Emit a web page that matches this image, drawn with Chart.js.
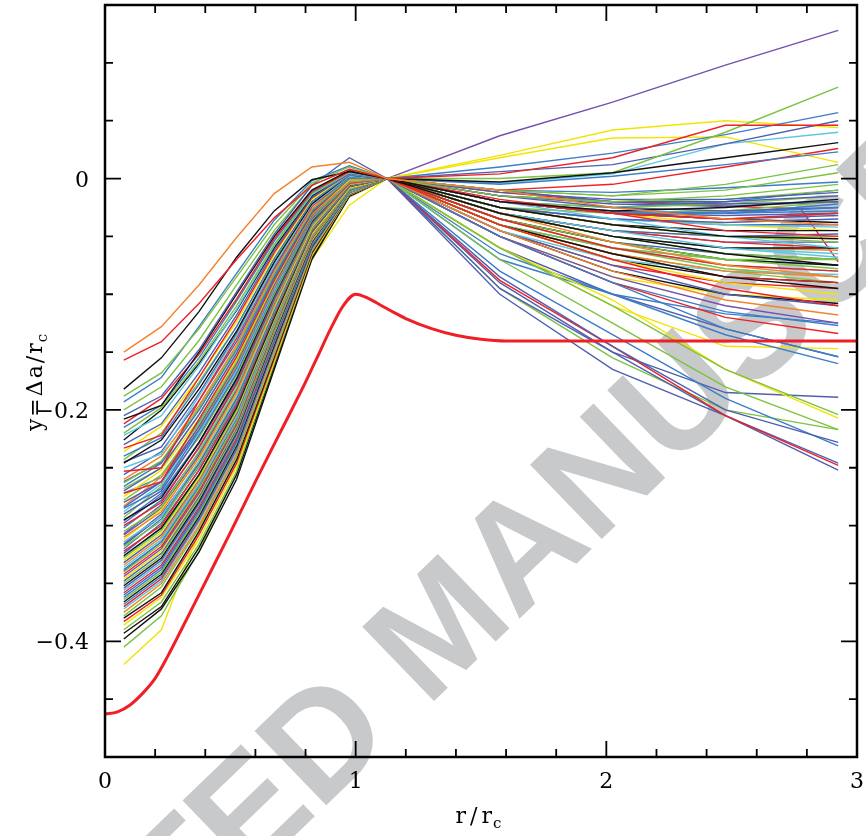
<!DOCTYPE html>
<html>
<head>
<meta charset="utf-8">
<script src="https://cdn.jsdelivr.net/npm/chart.js@4.4.1/dist/chart.umd.min.js"></script>
<style>
  html, body { margin: 0; padding: 0; background: #fff; }
  #wrap { width: 866px; height: 836px; }
</style>
</head>
<body>
<div id="wrap"><canvas id="chart__profiles" width="866" height="836"></canvas></div>
<script>
// r/r_c sample points of the thin curves
const xLeft = [0.075, 0.225, 0.375, 0.525, 0.675, 0.825, 0.975];
const xPivot = 1.125;   // every thin curve is normalised to zero here
const pivotY = 0;
const xRight = [1.575, 2.025, 2.475, 2.925];

// y values left of the pivot, one row per curve
const leftY = [
  [-0.150,-0.128,-0.092,-0.051,-0.013,0.010,0.014],
  [-0.157,-0.141,-0.108,-0.070,-0.034,-0.006,0.008],
  [-0.182,-0.155,-0.115,-0.068,-0.028,-0.001,0.006],
  [-0.188,-0.168,-0.130,-0.085,-0.040,-0.004,0.010],
  [-0.193,-0.172,-0.128,-0.082,-0.036,-0.002,0.011],
  [-0.205,-0.188,-0.148,-0.098,-0.048,-0.006,0.018],
  [-0.200,-0.180,-0.140,-0.092,-0.045,-0.006,0.008],
  [-0.208,-0.196,-0.150,-0.100,-0.050,-0.010,0.007],
  [-0.212,-0.190,-0.152,-0.104,-0.052,-0.011,0.006],
  [-0.215,-0.196,-0.155,-0.106,-0.054,-0.012,0.007],
  [-0.220,-0.198,-0.158,-0.110,-0.057,-0.013,0.006],
  [-0.222,-0.205,-0.162,-0.113,-0.058,-0.014,0.005],
  [-0.226,-0.200,-0.160,-0.114,-0.060,-0.015,0.006],
  [-0.230,-0.212,-0.168,-0.118,-0.062,-0.016,0.004],
  [-0.233,-0.222,-0.172,-0.121,-0.064,-0.017,0.005],
  [-0.236,-0.214,-0.172,-0.124,-0.066,-0.018,0.004],
  [-0.240,-0.224,-0.178,-0.128,-0.069,-0.020,0.003],
  [-0.243,-0.220,-0.176,-0.128,-0.070,-0.020,0.004],
  [-0.246,-0.226,-0.182,-0.132,-0.072,-0.022,0.003],
  [-0.250,-0.238,-0.188,-0.136,-0.075,-0.023,0.002],
  [-0.253,-0.250,-0.192,-0.138,-0.076,-0.024,0.003],
  [-0.256,-0.236,-0.192,-0.141,-0.078,-0.024,0.001],
  [-0.260,-0.240,-0.196,-0.144,-0.080,-0.026,0.002],
  [-0.263,-0.244,-0.198,-0.146,-0.082,-0.027,0.001],
  [-0.266,-0.246,-0.200,-0.148,-0.084,-0.028,0.000],
  [-0.270,-0.250,-0.204,-0.151,-0.086,-0.029,0.001],
  [-0.272,-0.262,-0.208,-0.154,-0.088,-0.030,0.000],
  [-0.275,-0.252,-0.208,-0.156,-0.089,-0.030,-0.001],
  [-0.278,-0.256,-0.212,-0.158,-0.090,-0.031,-0.001],
  [-0.280,-0.262,-0.214,-0.160,-0.092,-0.032,0.000],
  [-0.283,-0.258,-0.215,-0.162,-0.094,-0.033,-0.002],
  [-0.285,-0.268,-0.218,-0.164,-0.095,-0.034,-0.001],
  [-0.288,-0.264,-0.220,-0.166,-0.097,-0.034,-0.002],
  [-0.290,-0.270,-0.222,-0.168,-0.098,-0.035,-0.002],
  [-0.293,-0.266,-0.224,-0.170,-0.100,-0.036,-0.003],
  [-0.295,-0.276,-0.228,-0.173,-0.101,-0.037,-0.002],
  [-0.298,-0.274,-0.229,-0.175,-0.103,-0.038,-0.003],
  [-0.300,-0.280,-0.232,-0.177,-0.104,-0.038,-0.004],
  [-0.302,-0.278,-0.233,-0.178,-0.105,-0.039,-0.003],
  [-0.305,-0.284,-0.236,-0.181,-0.107,-0.040,-0.004],
  [-0.307,-0.282,-0.237,-0.182,-0.108,-0.040,-0.004],
  [-0.310,-0.288,-0.241,-0.185,-0.110,-0.041,-0.005],
  [-0.312,-0.286,-0.242,-0.186,-0.111,-0.042,-0.005],
  [-0.314,-0.292,-0.244,-0.188,-0.112,-0.042,-0.005],
  [-0.316,-0.290,-0.246,-0.190,-0.114,-0.043,-0.006],
  [-0.318,-0.296,-0.248,-0.191,-0.115,-0.044,-0.006],
  [-0.320,-0.294,-0.249,-0.193,-0.116,-0.044,-0.006],
  [-0.322,-0.300,-0.252,-0.195,-0.117,-0.045,-0.006],
  [-0.324,-0.298,-0.252,-0.196,-0.118,-0.046,-0.007],
  [-0.326,-0.302,-0.256,-0.198,-0.120,-0.046,-0.007],
  [-0.328,-0.304,-0.257,-0.200,-0.121,-0.047,-0.007],
  [-0.330,-0.306,-0.259,-0.201,-0.122,-0.048,-0.008],
  [-0.332,-0.308,-0.260,-0.203,-0.123,-0.048,-0.007],
  [-0.334,-0.310,-0.262,-0.204,-0.124,-0.049,-0.008],
  [-0.336,-0.312,-0.264,-0.206,-0.125,-0.049,-0.008],
  [-0.338,-0.314,-0.265,-0.207,-0.126,-0.050,-0.008],
  [-0.340,-0.316,-0.268,-0.210,-0.128,-0.051,-0.009],
  [-0.342,-0.318,-0.270,-0.211,-0.129,-0.052,-0.009],
  [-0.344,-0.320,-0.272,-0.213,-0.130,-0.052,-0.009],
  [-0.346,-0.322,-0.273,-0.214,-0.131,-0.053,-0.009],
  [-0.348,-0.324,-0.275,-0.216,-0.132,-0.053,-0.010],
  [-0.350,-0.326,-0.277,-0.218,-0.134,-0.054,-0.010],
  [-0.352,-0.328,-0.279,-0.219,-0.135,-0.055,-0.010],
  [-0.354,-0.330,-0.281,-0.221,-0.136,-0.055,-0.010],
  [-0.356,-0.332,-0.282,-0.222,-0.137,-0.056,-0.011],
  [-0.358,-0.334,-0.284,-0.224,-0.138,-0.056,-0.011],
  [-0.360,-0.336,-0.286,-0.226,-0.140,-0.057,-0.011],
  [-0.362,-0.338,-0.288,-0.228,-0.141,-0.058,-0.011],
  [-0.364,-0.340,-0.290,-0.229,-0.142,-0.058,-0.012],
  [-0.366,-0.342,-0.292,-0.231,-0.144,-0.059,-0.012],
  [-0.368,-0.344,-0.294,-0.233,-0.145,-0.060,-0.012],
  [-0.370,-0.346,-0.295,-0.234,-0.146,-0.060,-0.012],
  [-0.372,-0.348,-0.297,-0.236,-0.148,-0.061,-0.013],
  [-0.375,-0.350,-0.300,-0.238,-0.150,-0.062,-0.013],
  [-0.378,-0.353,-0.302,-0.240,-0.152,-0.063,-0.013],
  [-0.380,-0.358,-0.305,-0.243,-0.154,-0.064,-0.013],
  [-0.383,-0.360,-0.308,-0.246,-0.156,-0.065,-0.014],
  [-0.386,-0.362,-0.312,-0.249,-0.158,-0.066,-0.014],
  [-0.390,-0.366,-0.316,-0.253,-0.160,-0.067,-0.014],
  [-0.393,-0.370,-0.319,-0.256,-0.162,-0.068,-0.015],
  [-0.398,-0.372,-0.323,-0.260,-0.165,-0.070,-0.015],
  [-0.405,-0.378,-0.322,-0.255,-0.162,-0.069,-0.016],
  [-0.420,-0.390,-0.305,-0.225,-0.145,-0.070,-0.023],
  [-0.262,-0.245,-0.200,-0.147,-0.083,-0.027,0.001],
  [-0.284,-0.262,-0.217,-0.163,-0.095,-0.034,-0.002],
  [-0.296,-0.272,-0.228,-0.173,-0.102,-0.037,-0.003],
  [-0.308,-0.285,-0.239,-0.183,-0.109,-0.041,-0.004],
  [-0.317,-0.292,-0.247,-0.190,-0.114,-0.043,-0.005],
  [-0.327,-0.302,-0.256,-0.199,-0.120,-0.047,-0.007],
  [-0.339,-0.314,-0.267,-0.208,-0.127,-0.050,-0.008],
  [-0.272,-0.258,-0.210,-0.155,-0.088,-0.030,0.000],
  [-0.245,-0.232,-0.186,-0.134,-0.073,-0.022,0.003],
  [-0.268,-0.250,-0.204,-0.151,-0.086,-0.029,0.000]
];

// y values right of the pivot, same curve order
const rightY = [
  [-0.010,-0.025,-0.035,-0.040],
  [0.004,0.018,0.046,0.046],
  [-0.003,0.005,0.018,0.031],
  [0.000,0.005,0.040,0.079],
  [0.010,0.022,0.038,0.057],
  [0.006,0.012,0.030,0.050],
  [-0.010,-0.015,-0.010,0.005],
  [-0.020,-0.028,-0.025,-0.018],
  [-0.020,-0.030,-0.035,-0.030],
  [-0.005,0.002,0.012,0.023],
  [-0.015,-0.020,-0.015,-0.005],
  [-0.004,0.004,0.030,0.040],
  [-0.025,-0.040,-0.050,-0.052],
  [-0.010,-0.020,-0.022,-0.020],
  [-0.018,-0.030,-0.045,-0.050],
  [0.018,0.035,0.036,0.014],
  [-0.020,-0.030,-0.030,-0.025],
  [-0.010,-0.015,-0.005,0.012],
  [-0.030,-0.050,-0.065,-0.075],
  [-0.020,-0.035,-0.050,-0.060],
  [-0.040,-0.070,-0.095,-0.110],
  [-0.015,-0.020,-0.020,-0.015],
  [-0.030,-0.055,-0.075,-0.085],
  [-0.025,-0.040,-0.050,-0.055],
  [-0.010,-0.012,-0.008,-0.003],
  [-0.020,-0.030,-0.035,-0.032],
  [-0.035,-0.060,-0.075,-0.080],
  [0.020,0.042,0.050,0.044],
  [-0.030,-0.050,-0.065,-0.070],
  [-0.012,-0.018,-0.018,-0.012],
  [-0.045,-0.080,-0.105,-0.118],
  [-0.050,-0.090,-0.130,-0.154],
  [-0.030,-0.045,-0.060,-0.068],
  [-0.025,-0.035,-0.038,-0.035],
  [-0.060,-0.110,-0.165,-0.204],
  [-0.030,-0.050,-0.060,-0.060],
  [-0.015,-0.025,-0.028,-0.025],
  [-0.050,-0.090,-0.120,-0.134],
  [-0.020,-0.028,-0.030,-0.028],
  [-0.035,-0.055,-0.070,-0.078],
  [0.037,0.066,0.098,0.128],
  [-0.025,-0.040,-0.050,-0.052],
  [-0.040,-0.070,-0.090,-0.100],
  [-0.025,-0.035,-0.040,-0.042],
  [-0.085,-0.145,-0.200,-0.228],
  [-0.020,-0.025,-0.022,-0.015],
  [-0.020,-0.030,-0.030,-0.022],
  [-0.088,-0.145,-0.205,-0.248],
  [-0.030,-0.045,-0.050,-0.048],
  [-0.040,-0.065,-0.085,-0.095],
  [-0.070,-0.125,-0.180,-0.217],
  [-0.060,-0.105,-0.165,-0.207],
  [-0.095,-0.150,-0.205,-0.252],
  [-0.040,-0.065,-0.080,-0.085],
  [-0.045,-0.070,-0.080,-0.083],
  [-0.065,-0.100,-0.135,-0.160],
  [-0.040,-0.060,-0.070,-0.070],
  [-0.010,-0.005,0.010,0.026],
  [-0.050,-0.085,-0.110,-0.125],
  [-0.060,-0.110,-0.145,-0.147],
  [-0.045,-0.075,-0.100,-0.110],
  [-0.015,-0.020,-0.018,-0.010],
  [-0.035,-0.055,-0.070,-0.075],
  [-0.100,-0.165,-0.205,-0.246],
  [-0.030,-0.050,-0.060,-0.065],
  [-0.040,-0.065,-0.085,-0.090],
  [-0.035,-0.055,-0.065,-0.070],
  [-0.050,-0.090,-0.115,-0.127],
  [-0.025,-0.030,-0.028,-0.020],
  [-0.040,-0.070,-0.085,-0.090],
  [-0.080,-0.135,-0.190,-0.231],
  [-0.045,-0.075,-0.090,-0.095],
  [-0.040,-0.060,-0.075,-0.080],
  [-0.030,-0.050,-0.060,-0.062],
  [-0.095,-0.155,-0.200,-0.217],
  [-0.045,-0.080,-0.100,-0.108],
  [-0.030,-0.045,-0.055,-0.060],
  [-0.050,-0.085,-0.100,-0.105],
  [-0.030,-0.045,-0.050,-0.050],
  [-0.020,-0.030,-0.035,-0.038],
  [-0.025,-0.040,-0.045,-0.045],
  [-0.035,-0.060,-0.078,-0.085],
  [-0.020,-0.030,-0.040,-0.045],
  [-0.090,-0.150,-0.185,-0.189],
  [-0.060,-0.100,-0.130,-0.154],
  [-0.020,-0.025,-0.020,-0.010],
  [-0.025,-0.035,-0.040,-0.040],
  [-0.015,-0.022,-0.024,-0.020],
  [-0.040,-0.060,-0.070,-0.075],
  [-0.030,-0.045,-0.055,-0.055],
  [-0.070,-0.100,-0.117,-0.125],
  [-0.020,-0.030,-0.032,-0.030],
  [-0.040,-0.065,-0.080,-0.090]
];

// one colour letter per curve (same order as leftY / rightY)
const lineColorKey =
  'ORKGLBGKRL' + 'GCKBRYLGKC' + 'RBOGLBRYGB' + 'OLCBGKBRLG' + 'POYCBGLRBK' +
  'GYBOCLGRPY' + 'BGKBCRBLGK' + 'LRCOGKRYGK' + 'KGYBBLBBCB' + 'LBG';

// the one thin red curve that drops at the very end
const redTailX = [1.125, 1.575, 2.025, 2.475, 2.775, 2.925];
const redTailY = [0, -0.012, -0.020, -0.024, -0.026, -0.072];

// thick red reference curve
const modelX = [0, 0.05, 0.1, 0.15, 0.2, 0.25, 0.3, 0.4, 0.5, 0.6, 0.7, 0.8, 0.85, 0.9, 0.95, 1.0,
                1.05, 1.1, 1.15, 1.2, 1.3, 1.4, 1.5, 1.6, 2.0, 2.5, 3.0];
const modelY = [-0.463, -0.461, -0.455, -0.445, -0.432, -0.413, -0.392, -0.349, -0.306, -0.262, -0.219,
                -0.176, -0.153, -0.130, -0.110, -0.100, -0.1035, -0.1095, -0.1155, -0.121, -0.1295, -0.1355,
                -0.139, -0.1405, -0.1405, -0.1405, -0.1405];

// labelled ticks
const xTickLabels = ['0', '1', '2', '3'];
const yTickLabels = ['0', '\u22120.2', '\u22120.4'];

const palette = {
  B: '#4f5fb0', L: '#3c7dc8', C: '#5cc6df', G: '#7dc242', Y: '#f2e400',
  O: '#f5822a', R: '#ec2227', K: '#111111', P: '#7350ae'
};

const toPoints = (xs, ys) => xs.map((x, k) => ({ x: x, y: ys[k] }));

let datasets = [{
  data: toPoints(modelX, modelY),
  borderColor: '#ee1f26',
  borderWidth: 3,
  cubicInterpolationMode: 'monotone'
}];
leftY.forEach((ly, i) => {
  datasets.push({
    data: toPoints(xLeft, ly).concat([{ x: xPivot, y: pivotY }], toPoints(xRight, rightY[i])),
    borderColor: palette[lineColorKey[i]],
    borderWidth: 1.4
  });
});
datasets.push({
  data: toPoints(redTailX, redTailY),
  borderColor: palette.R,
  borderWidth: 1.4
});

const isMultiple = (v, step) => Math.abs(v / step - Math.round(v / step)) < 1e-6;

// gray diagonal watermark, behind everything
const watermark = {
  id: 'watermark',
  beforeDraw(chart) {
    const ctx = chart.ctx;
    ctx.save();
    ctx.translate(446, 632);
    ctx.rotate(-44 * Math.PI / 180);
    ctx.fillStyle = '#c8c9cb';
    ctx.font = 'bold 150px "Liberation Sans", Arial, sans-serif';
    ctx.textAlign = 'center';
    ctx.textBaseline = 'middle';
    ctx.fillText('ACCEPTED MANUSCRIPT', 0, 0);
    ctx.restore();
  }
};

// box with inward ticks on all four sides, tick labels and axis titles
const frameAndTicks = {
  id: 'frameAndTicks',
  afterDatasetsDraw(chart) {
    const { ctx, chartArea: a, scales: { x, y } } = chart;
    ctx.save();
    ctx.strokeStyle = '#000';
    ctx.fillStyle = '#000';
    ctx.lineWidth = 1.8;
    ctx.beginPath();
    x.ticks.forEach(t => {
      if (t.value <= x.min || t.value >= x.max) return;
      const px = x.getPixelForValue(t.value);
      const len = isMultiple(t.value, 1) ? 16 : 8;
      ctx.moveTo(px, a.bottom); ctx.lineTo(px, a.bottom - len);
      ctx.moveTo(px, a.top); ctx.lineTo(px, a.top + len);
    });
    y.ticks.forEach(t => {
      if (t.value <= y.min || t.value >= y.max) return;
      const py = y.getPixelForValue(t.value);
      const len = isMultiple(t.value, 0.2) ? 16 : 8;
      ctx.moveTo(a.left, py); ctx.lineTo(a.left + len, py);
      ctx.moveTo(a.right, py); ctx.lineTo(a.right - len, py);
    });
    ctx.stroke();
    ctx.lineWidth = 2.5;
    ctx.strokeRect(a.left, a.top, a.right - a.left, a.bottom - a.top);

    // tick labels
    const tickFont = '22px "DejaVu Serif", serif';
    ctx.font = tickFont;
    ctx.textBaseline = 'alphabetic';
    ctx.textAlign = 'center';
    xTickLabels.forEach(s => {
      ctx.fillText(s, x.getPixelForValue(Number(s)), a.bottom + 31);
    });
    ctx.textAlign = 'right';
    yTickLabels.forEach(s => {
      ctx.fillText(s, a.left - 16, y.getPixelForValue(Number(s.replace('\u2212', '-'))) + 8);
    });

    // axis titles with subscript c
    ctx.textAlign = 'left';
    const main = '22px "DejaVu Serif", serif';
    const sub = '15px "DejaVu Serif", serif';

    ctx.letterSpacing = '4px';
    ctx.font = main;
    let w1 = ctx.measureText('r/r').width;
    ctx.font = sub;
    let w2 = ctx.measureText('c').width;
    let x0 = 482 - (w1 + w2) / 2;
    ctx.font = main;
    ctx.fillText('r/r', x0, 823);
    ctx.font = sub;
    ctx.fillText('c', x0 + w1 - 3, 828);

    ctx.translate(42, 381);
    ctx.rotate(-Math.PI / 2);
    ctx.letterSpacing = '2px';
    ctx.font = main;
    w1 = ctx.measureText('y=Δa/r').width;
    ctx.font = sub;
    w2 = ctx.measureText('c').width;
    x0 = -(w1 + w2) / 2;
    ctx.font = main;
    ctx.fillText('y=Δa/r', x0, 0);
    ctx.font = sub;
    ctx.fillText('c', x0 + w1 - 1, 5);
    ctx.restore();
  }
};

let ctx__profiles = document.getElementById('chart__profiles').getContext('2d');
new Chart(ctx__profiles, {
  type: 'line',
  data: { datasets: datasets },
  options: {
    responsive: false,
    animation: false,
    events: [],
    elements: {
      point: { radius: 0 },
      line: { tension: 0, fill: false }
    },
    layout: { padding: { top: 5, right: 9, left: 0, bottom: 0 } },
    plugins: {
      legend: { display: false },
      tooltip: { enabled: false },
      title: { display: false }
    },
    scales: {
      x: {
        type: 'linear',
        min: 0,
        max: 3,
        afterFit: (s) => { s.height = 79; },
        grid: { display: false, drawTicks: false },
        border: { display: false },
        ticks: { stepSize: 0.2, autoSkip: false, display: false }
      },
      y: {
        type: 'linear',
        min: -0.5,
        max: 0.15,
        afterFit: (s) => { s.width = 105; },
        grid: { display: false, drawTicks: false },
        border: { display: false },
        ticks: { stepSize: 0.05, autoSkip: false, display: false }
      }
    }
  },
  plugins: [watermark, frameAndTicks]
});
</script>
</body>
</html>
